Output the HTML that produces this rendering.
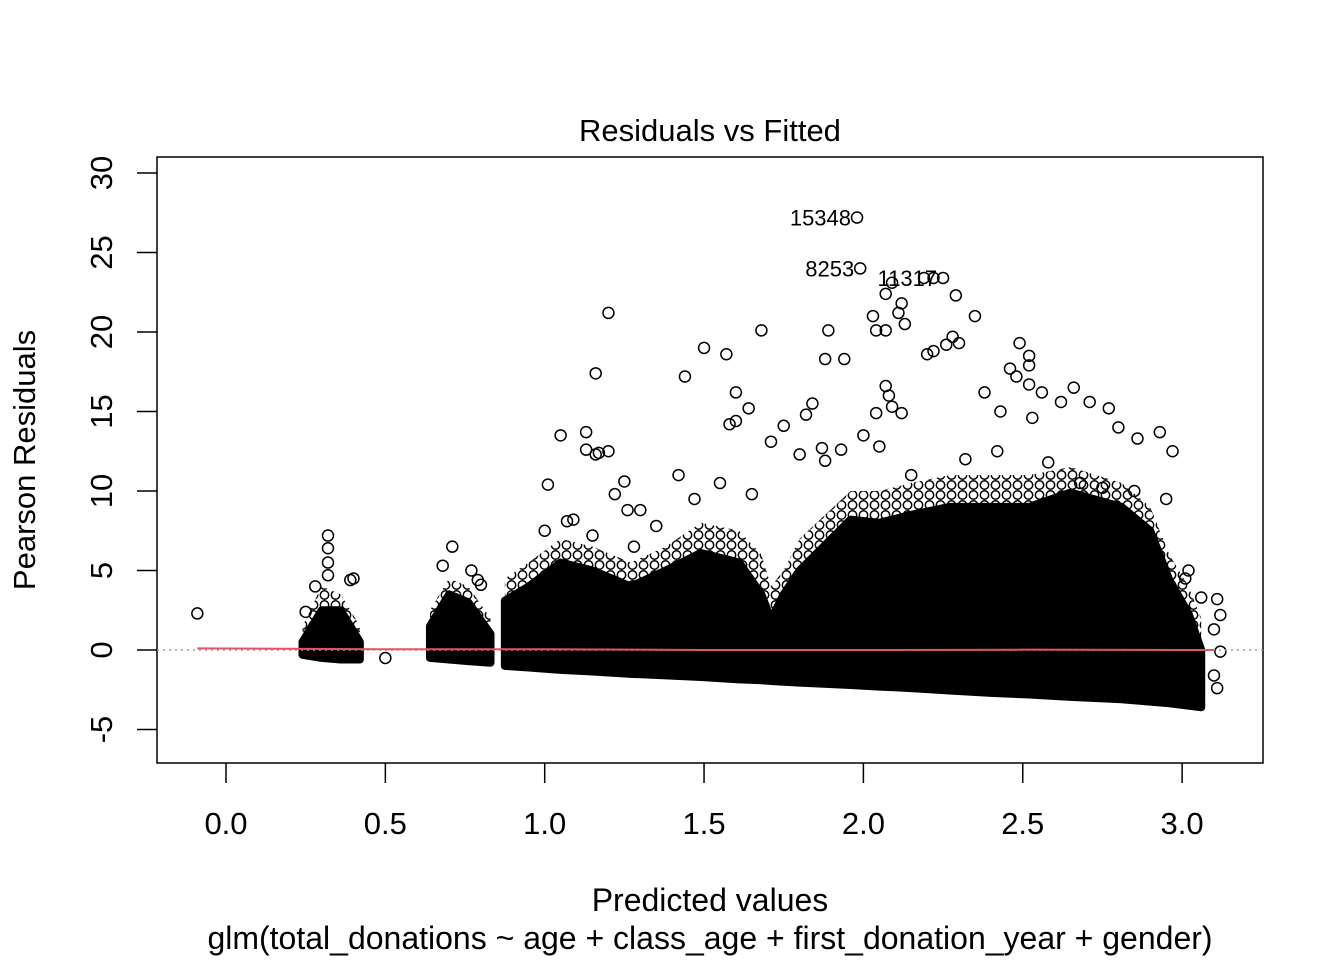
<!DOCTYPE html>
<html><head><meta charset="utf-8"><style>
body{margin:0;background:#fff}
svg text{font-family:"Liberation Sans",Arial,sans-serif;fill:#000}
</style></head><body>
<svg id="chart" width="1344" height="960" viewBox="0 0 1344 960" xmlns="http://www.w3.org/2000/svg">
<defs>
<pattern id="ring" width="11" height="10" patternUnits="userSpaceOnUse">
<circle cx="5.5" cy="5" r="4.2" fill="none" stroke="#000" stroke-width="1.5"/>
</pattern>
</defs>
<rect width="1344" height="960" fill="#fff"/>
<text x="710" y="141" font-size="31" text-anchor="middle">Residuals vs Fitted</text>
<rect x="157" y="157" width="1106" height="606" fill="none" stroke="#000" stroke-width="1.5"/>
<g id="marks"></g>
<g id="axes"></g>
<text x="710" y="911" font-size="32" text-anchor="middle">Predicted values</text>
<text x="710" y="949" font-size="32" text-anchor="middle">glm(total_donations ~ age + class_age + first_donation_year + gender)</text>
<text transform="translate(35,460) rotate(-90)" font-size="31" text-anchor="middle">Pearson Residuals</text>
</svg>
<script>
const xTicks=[0,0.5,1,1.5,2,2.5,3];
const xTickLabels=["0.0","0.5","1.0","1.5","2.0","2.5","3.0"];
const yTicks=[-5,0,5,10,15,20,25,30];
const yTickLabels=["-5","0","5","10","15","20","25","30"];
// dense band envelope (solid)
const bandX=[0.875,0.95,1.05,1.15,1.27,1.38,1.49,1.61,1.68,1.71,1.75,1.80,1.96,2.05,2.15,2.27,2.4,2.52,2.65,2.81,2.90,2.96,3.02,3.06];
const bandUpper=[3.1,4,5.5,5,4,5,6.1,5.5,3.5,1.9,3.5,5,8.2,8,8.5,9,9,9,9.9,9,7.5,4.4,2.3,0];
const bandLower=[-1.0,-1.1,-1.25,-1.35,-1.5,-1.6,-1.7,-1.85,-1.9,-1.95,-2.0,-2.05,-2.2,-2.3,-2.4,-2.55,-2.7,-2.8,-2.95,-3.1,-3.25,-3.35,-3.5,-3.6];
// fuzzy halo of overlapping circles above the solid band
const haloUpper=[4.5,5.5,7,6.5,5.5,6.5,8,7.5,6,4,5,7,10,10,10.5,11,11,11,11.5,10.5,9,6,4,2];
// small clusters
const clusterX=[[0.24,0.3,0.36,0.42],[0.64,0.7,0.76,0.83]];
const clusterUpper=[[0.5,2.5,2.5,0.5],[1.5,3.5,3,1]];
const clusterLower=[[-0.3,-0.5,-0.6,-0.6],[-0.5,-0.6,-0.7,-0.8]];
const clusterHalo=[[1.5,4,3.5,1.5],[2.5,4.5,4,2]];
// individual points
const ptX=[-0.09,0.5,1.2,1.16,1.05,1.13,1.17,1.13,1.2,1.16,1.01,1.25,1.22,1.26,1.3,1.44,1.5,1.57,1.68,1.6,1.64,1.6,1.58,1.71,1.75,1.84,1.82,1.89,1.88,1.94,1.98,1.99,2.04,2.03,2.07,2.07,2.09,2.11,2.12,2.13,2.19,2.22,2.25,2.29,2.35,2.2,2.22,2.26,2.28,2.3,2.38,2.43,2.48,2.52,2.49,2.52,2.46,2.52,2.56,2.53,2.62,2.66,2.71,2.77,2.8,2.86,2.97,2.93,2.07,2.08,2.09,2.04,2.12,2.0,2.05,1.93,1.87,1.80,1.88,3.11,3.12,3.1,3.12,3.02,3.01,3.06,3.1,3.11,0.32,0.32,0.32,0.32,0.39,0.4,0.28,0.25,0.71,0.68,0.77,0.79,0.8,1.0,1.07,1.09,1.15,1.28,1.35,1.42,1.47,1.55,1.65,2.15,2.32,2.42,2.58,2.68,2.75,2.85,2.95];
const ptY=[2.3,-0.5,21.2,17.4,13.5,13.7,12.4,12.6,12.5,12.3,10.4,10.6,9.8,8.8,8.8,17.2,19.0,18.6,20.1,16.2,15.2,14.4,14.2,13.1,14.1,15.5,14.8,20.1,18.3,18.3,27.2,24.0,20.1,21.0,20.1,22.4,23.1,21.2,21.8,20.5,23.4,23.4,23.4,22.3,21.0,18.6,18.8,19.2,19.7,19.3,16.2,15.0,17.2,17.9,19.3,18.5,17.7,16.7,16.2,14.6,15.6,16.5,15.6,15.2,14.0,13.3,12.5,13.7,16.6,16.0,15.3,14.9,14.9,13.5,12.8,12.6,12.7,12.3,11.9,3.2,2.2,1.3,-0.1,5.0,4.5,3.3,-1.6,-2.4,7.2,6.4,5.5,4.7,4.4,4.5,4.0,2.4,6.5,5.3,5.0,4.4,4.1,7.5,8.1,8.2,7.2,6.5,7.8,11.0,9.5,10.5,9.8,11.0,12.0,12.5,11.8,10.5,10.2,10.0,9.5];
const labelText=["15348","8253","11317"];
const labelX=[1.98,1.99,2.25];
const labelY=[27.2,24.0,23.4];
const redX=[-0.09,0.5,1.0,1.5,2.0,2.5,3.0,3.1];
const redY=[0.1,0.05,0.05,0.0,0.0,0.02,0.0,0.0];

const X=v=>226+(v-0)*318.7, Y=v=>650-v*15.9;
const NS="http://www.w3.org/2000/svg";
const marks=document.getElementById('marks'), axes=document.getElementById('axes');
function mk(tag,attrs,parent){const e=document.createElementNS(NS,tag);for(const k in attrs)e.setAttribute(k,attrs[k]);parent.appendChild(e);return e;}

function poly(xs,up,lo,fill,sw){
  let pts=xs.map((x,i)=>X(x)+','+Y(up[i]));
  for(let i=xs.length-1;i>=0;i--)pts.push(X(xs[i])+','+Y(lo[i]));
  return mk('polygon',{points:pts.join(' '),fill:fill,stroke:sw?'#000':'none','stroke-width':sw,'stroke-linejoin':'round'},marks);
}
function band(xs,up,lo,halo,name){
  const h=poly(xs,halo,lo,'url(#ring)',0);
  
  
  const p=poly(xs,up,lo,'#000',8);
  
  
}
band(bandX,bandUpper,bandLower,haloUpper,'dense-residual-band');
clusterX.forEach((cx,j)=>band(cx,clusterUpper[j],clusterLower[j],clusterHalo[j],'residual-cluster-'+(j+1)));

ptX.forEach((x,i)=>{
  const c=mk('circle',{cx:X(x),cy:Y(ptY[i]),r:5.5,fill:'none',stroke:'#000','stroke-width':1.5},marks);
  
  
});
labelText.forEach((t,i)=>{
  const e=mk('text',{x:X(labelX[i])-6,y:Y(labelY[i])+8,'font-size':22,'text-anchor':'end'},marks);
  e.textContent=t;
  
  
});
const zl=mk('line',{x1:157,x2:1263,y1:Y(0),y2:Y(0),stroke:'#9e9e9e','stroke-dasharray':'2,4','stroke-width':1.5},marks);


const rl=mk('polyline',{points:redX.map((x,i)=>X(x)+','+Y(redY[i])).join(' '),fill:'none',stroke:'#DF536B','stroke-width':2},marks);



xTicks.forEach((v,i)=>{
  const l=mk('line',{x1:X(v),x2:X(v),y1:763,y2:783,stroke:'#000','stroke-width':1.5},axes);
  
  
  const t=mk('text',{x:X(v),y:834,'font-size':31,'text-anchor':'middle'},axes);
  t.textContent=xTickLabels[i];
  
  
});
yTicks.forEach((v,i)=>{
  const l=mk('line',{x1:137,x2:157,y1:Y(v),y2:Y(v),stroke:'#000','stroke-width':1.5},axes);
  
  
  const t=mk('text',{transform:`translate(112,${Y(v)}) rotate(-90)`,'font-size':31,'text-anchor':'middle'},axes);
  t.textContent=yTickLabels[i];
  
  
});
</script>
</body></html>
